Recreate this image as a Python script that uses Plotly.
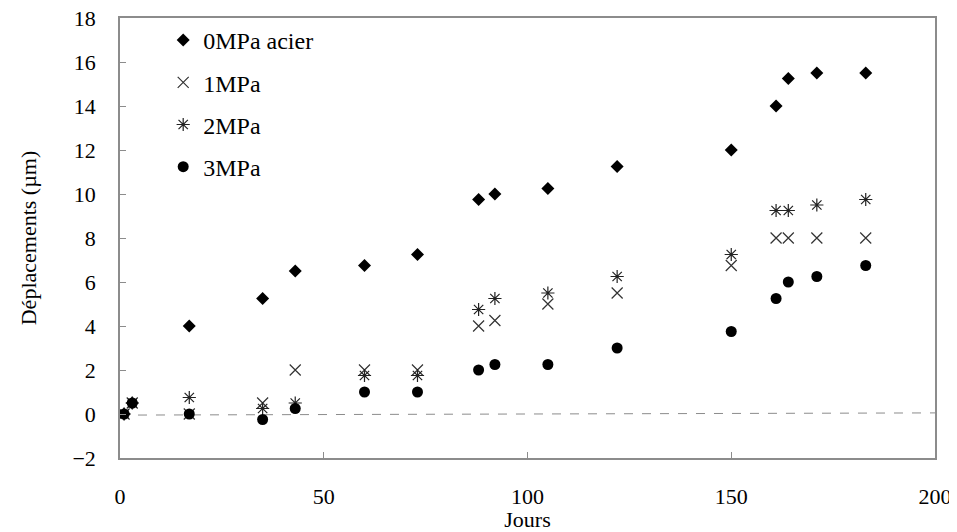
import plotly.graph_objects as go

days = [1, 3, 17, 35, 43, 60, 73, 88, 92, 105, 122, 150, 161, 164, 171, 183]
mpa0_acier = [0, 0.5, 4.0, 5.25, 6.5, 6.75, 7.25, 9.75, 10.0, 10.25, 11.25, 12.0, 14.0, 15.25, 15.5, 15.5]
mpa1 = [0, 0.5, 0.0, 0.5, 2.0, 2.0, 2.0, 4.0, 4.25, 5.0, 5.5, 6.75, 8.0, 8.0, 8.0, 8.0]
mpa2 = [0, 0.5, 0.75, 0.25, 0.5, 1.75, 1.75, 4.75, 5.25, 5.5, 6.25, 7.25, 9.25, 9.25, 9.5, 9.75]
mpa3 = [0, 0.5, 0.0, -0.25, 0.25, 1.0, 1.0, 2.0, 2.25, 2.25, 3.0, 3.75, 5.25, 6.0, 6.25, 6.75]

names = ["0MPa acier", "1MPa", "2MPa", "3MPa"]
x_ticks = [0, 50, 100, 150, 200]
y_ticks = [-2, 0, 2, 4, 6, 8, 10, 12, 14, 16, 18]

FONT = "Liberation Serif, Times New Roman, serif"
AX = "#8c8c8c"

fig = go.Figure()
fig.add_trace(go.Scatter(x=days, y=mpa0_acier, mode="markers", name=names[0], legendgroup="a",
                         marker=dict(symbol="diamond", size=10, color="black")))
fig.add_trace(go.Scatter(x=days, y=mpa1, mode="markers", name=names[1], legendgroup="b",
                         marker=dict(symbol="x-thin-open", size=11, color="#333333",
                                     line=dict(color="#333333", width=1.2))))
fig.add_trace(go.Scatter(x=days, y=mpa2, mode="markers", name=names[2], legendgroup="c",
                         marker=dict(symbol="asterisk-open", size=11, color="#222222",
                                     line=dict(color="#222222", width=1.2))))
fig.add_trace(go.Scatter(x=days, y=mpa3, mode="markers", name=names[3], legendgroup="d",
                         marker=dict(symbol="circle", size=11, color="black")))

fig.add_shape(type="line", x0=0, x1=200, y0=-0.05, y1=0.05, xref="x", yref="y",
              line=dict(color="#8c8c8c", width=1, dash="dash"), layer="below")

fig.update_layout(
    width=949, height=524,
    margin=dict(l=112, r=22, t=10, b=74),
    paper_bgcolor="white", plot_bgcolor="white",
    font=dict(family=FONT, size=22, color="black"),
    showlegend=True,
    legend=dict(x=0.053, y=1.0, xanchor="left", yanchor="top", bgcolor="rgba(0,0,0,0)",
                font=dict(family=FONT, size=24, color="black"), tracegroupgap=8,
                itemwidth=30),
    xaxis=dict(range=[0, 200], tickvals=x_ticks, ticks="inside", ticklen=6, tickcolor=AX,
               showline=True, linecolor=AX, linewidth=1.5, mirror=True, showgrid=False,
               zeroline=False, ticklabelstandoff=18, automargin=False,
               ticklabeloverflow="allow",
               title=dict(text="Jours", standoff=4, font=dict(family=FONT, size=22))),
    yaxis=dict(range=[-2, 18], tickvals=y_ticks, ticks="inside", ticklen=6, tickcolor=AX,
               showline=True, linecolor=AX, linewidth=1.5, mirror=True, showgrid=False,
               zeroline=False, ticklabelstandoff=18, automargin=False,
               ticklabeloverflow="allow",
               title=dict(text="Déplacements (µm)", standoff=30, font=dict(family=FONT, size=22))),
)

fig.write_html("out.html")
